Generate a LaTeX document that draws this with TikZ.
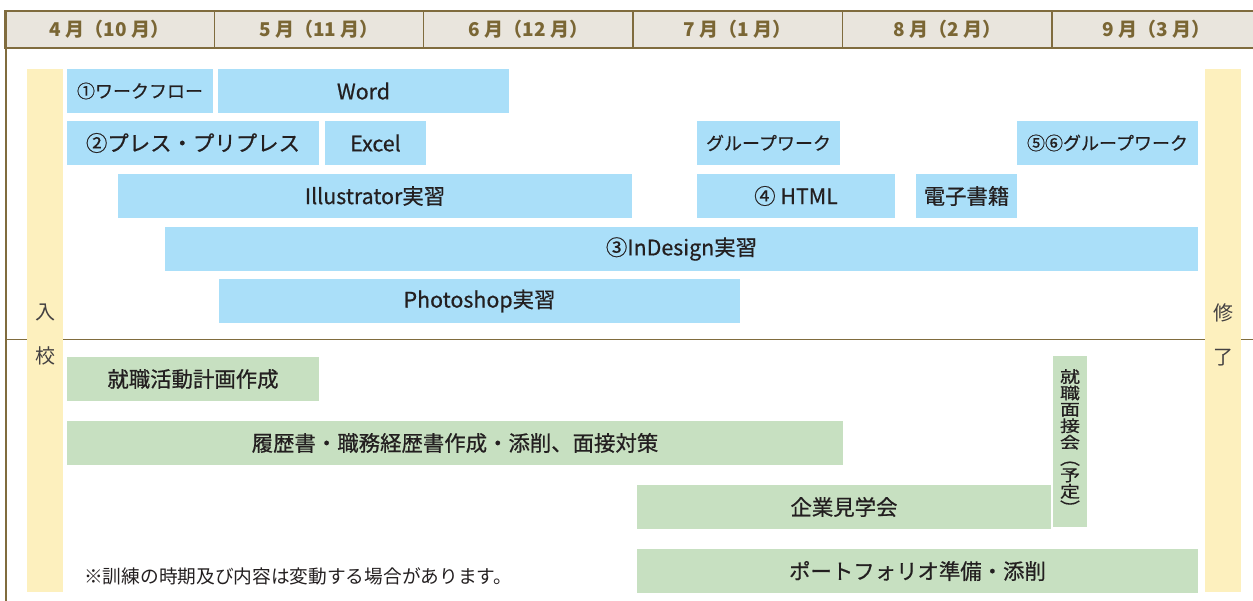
\documentclass[tikz,border=0pt]{standalone}
\usepackage{fontspec}
\setmainfont{Noto Sans CJK JP}
\newfontfamily\barfont{Noto Sans CJK JP}[FakeBold=0.6]

\definecolor{framebrown}{RGB}{128,108,62}
\definecolor{headfill}{RGB}{233,229,221}
\definecolor{headtext}{RGB}{122,102,52}
\definecolor{barblue}{RGB}{170,223,249}
\definecolor{bargreen}{RGB}{199,224,193}
\definecolor{baryellow}{RGB}{253,240,190}
\definecolor{textgray}{RGB}{35,31,32}

\begin{document}
\begin{tikzpicture}[x=1pt, y=-1pt,
  headcell/.style={draw=framebrown, line width=1.4, fill=headfill, text=headtext,
    font=\bfseries\fontsize{19}{20}\selectfont, minimum width=209.4, minimum height=37, inner sep=0pt},
  bar/.style={inner sep=0pt, text=textgray, font=\barfont\fontsize{21.4}{24}\selectfont, minimum height=44},
  bluebar/.style={bar, fill=barblue},
  greenbar/.style={bar, fill=bargreen},
  smalltxt/.style={font=\barfont\fontsize{18}{20}\selectfont},
  yellowbar/.style={fill=baryellow, inner sep=0pt, minimum width=36, minimum height=523},
  sidetxt/.style={text=textgray!85, font=\fontsize{20}{44}\selectfont, align=center},
  vtxt/.style={text=textgray, font=\barfont\fontsize{20}{20.5}\selectfont, align=center, yscale=0.8, transform shape},
  notetxt/.style={text=textgray, font=\fontsize{18.7}{20}\selectfont, anchor=west, inner sep=0pt},
  frameline/.style={draw=framebrown, line width=1.4}]

  % Bounding box of the scheme
  \useasboundingbox (0,0) rectangle (1253,601);
  \clip (0,0) rectangle (1253,601);

  %%%%%%%%%%%%%%%%%%%%%%%%%%%%%%%%% Header with the months %%%%%%%%%%%%%%%%%%%%%%%%%%%%%%%%%%%%
  \foreach \i/\lab in {0/{4 月（10 月）}, 1/{5 月（11 月）}, 2/{6 月（12 月）},
                       3/{7 月（1 月）}, 4/{8 月（2 月）}, 5/{9 月（3 月）}} {
    \draw ({6+209.4*\i+103.5},29.5) node[headcell] (m\i) {\lab} ;
  }

  % Frame and separation line
  \draw[frameline] (6,11) -- (6,601) ;
  \draw[draw=framebrown, line width=1.2] (6,339.5) -- (1253,339.5) ;

  %%%%%%%%%%%%%%%%%%%%%%%%%%%%%%%%% Entrance and completion %%%%%%%%%%%%%%%%%%%%%%%%%%%%%%%%%%%
  \draw (45,330.5) node[yellowbar] (entry) {} ;
  \draw (1223,330.5) node[yellowbar] (finish) {} ;
  \draw (45,335) node[sidetxt] {入\\校} ;
  \draw (1223,335) node[sidetxt] {修\\了} ;

  %%%%%%%%%%%%%%%%%%%%%%%%%%%%%%%%% Training (blue) %%%%%%%%%%%%%%%%%%%%%%%%%%%%%%%%%%%%%%%%%%%
  % Row 1
  \draw (140,91) node[bluebar, smalltxt, minimum width=146] (flow) {①ワークフロー} ;
  \draw (363.5,91) node[bluebar, minimum width=291] (word) {Word} ;
  % Row 2
  \draw (193,143) node[bluebar, minimum width=252] (press) {②プレス・プリプレス} ;
  \draw (375.5,143) node[bluebar, minimum width=101] (excel) {Excel} ;
  \draw (768.5,143) node[bluebar, smalltxt, minimum width=143] (group) {グループワーク} ;
  \draw (1107.5,143) node[bluebar, smalltxt, minimum width=181] (group56) {⑤⑥グループワーク} ;
  % Row 3
  \draw (375,196) node[bluebar, minimum width=514] (illus) {Illustrator実習} ;
  \draw (796,196) node[bluebar, minimum width=198] (html) {④ HTML} ;
  \draw (966.5,196) node[bluebar, minimum width=101] (ebook) {電子書籍} ;
  % Row 4
  \draw (681.5,249) node[bluebar, minimum width=1033] (indesign) {③InDesign実習} ;
  % Row 5
  \draw (479.5,301) node[bluebar, minimum width=521] (photo) {Photoshop実習} ;

  %%%%%%%%%%%%%%%%%%%%%%%%%%%%%%%%% Job hunting (green) %%%%%%%%%%%%%%%%%%%%%%%%%%%%%%%%%%%%%%%
  \draw (193,379) node[greenbar, minimum width=252] (plan) {就職活動計画作成} ;
  \draw (455,443) node[greenbar, minimum width=776] (resume) {履歴書・職務経歴書作成・添削、面接対策} ;
  \draw (844,507) node[greenbar, minimum width=414] (visit) {企業見学会} ;
  \draw (917.5,571) node[greenbar, minimum width=561] (folio) {ポートフォリオ準備・添削} ;
  \draw (1070,441.5) node[greenbar, minimum width=34, minimum height=171] (interview) {} ;
  \draw (interview) node[vtxt] {就\\職\\面\\接\\会\\︵\\予\\定\\︶} ;

  % Note
  \draw (84,576) node[notetxt] (note) {※訓練の時期及び内容は変動する場合があります。} ;

\end{tikzpicture}
\end{document}
